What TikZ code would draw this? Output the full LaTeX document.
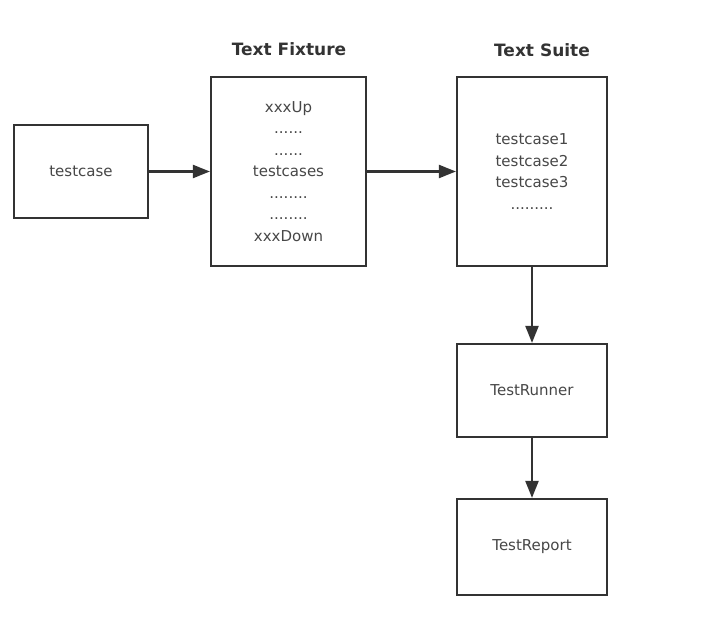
\documentclass[tikz,border=0pt]{standalone}
\usepackage{fontspec}
\setmainfont{DejaVu Sans}
\usepackage{xcolor}
\usetikzlibrary{arrows.meta,positioning,calc}
\definecolor{inkgray}{HTML}{333333}

\begin{document}
\begin{tikzpicture}[x=1pt,y=-1pt,
    box/.style={draw=inkgray, line width=2.2pt, fill=white, inner sep=0pt,
        align=center, text=inkgray!90, font=\fontsize{15}{21.5}\selectfont},
    title/.style={font=\fontsize{17}{20}\selectfont\bfseries, text=inkgray},
    flow/.style={draw=inkgray, line width=2.2pt, -{Triangle[length=17pt,width=13pt]}}]
    \useasboundingbox (0,0) rectangle (716,618);

    % Boxes
    \node[box, minimum width=134pt, minimum height=93pt] (testcase) at (81,171.5) {testcase};
    \node[box, minimum width=155pt, minimum height=189pt] (fixture) at (288.5,171.5)
        {xxxUp\\......\\......\\testcases\\........\\........\\xxxDown};
    \node[box, minimum width=150pt, minimum height=189pt] (suite) at (532,171.5)
        {testcase1\\testcase2\\testcase3\\.........};
    \node[box, minimum width=150pt, minimum height=93pt] (runner) at (532,390.5) {TestRunner};
    \node[box, minimum width=150pt, minimum height=96pt] (report) at (532,547) {TestReport};

    % Titles
    \node[title] (fixturetitle) at (289,49) {Text Fixture};
    \node[title] (suitetitle) at (542,50) {Text Suite};

    % Connectors
    \draw[flow] (testcase) -- (fixture);
    \draw[flow] (fixture) -- (suite);
    \draw[flow] (suite) -- (runner);
    \draw[flow] (runner) -- (report);
\end{tikzpicture}
\end{document}
